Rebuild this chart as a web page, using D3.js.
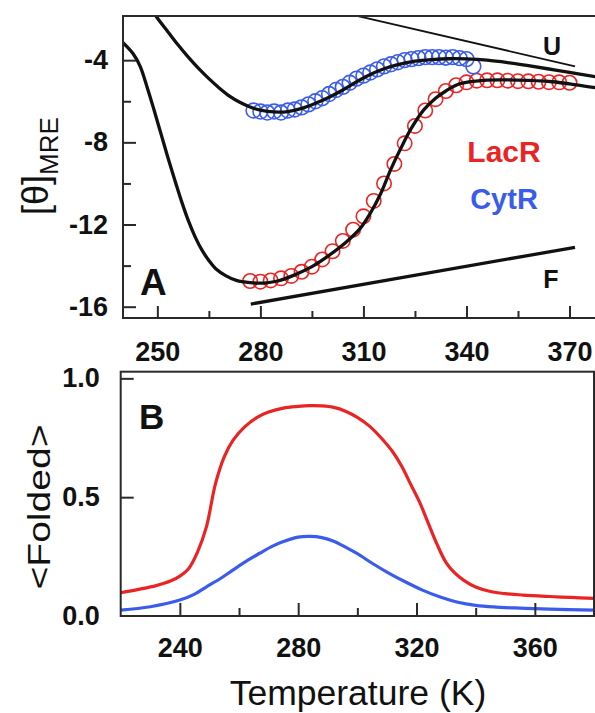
<!DOCTYPE html>
<html>
<head>
<meta charset="utf-8">
<script src="https://cdn.jsdelivr.net/npm/d3@7/dist/d3.min.js"></script>
<style>
  html, body { margin: 0; padding: 0; background: #fff; }
  svg { display: block; }
  text { font-family: "Liberation Sans", Arial, Helvetica, sans-serif; fill: #111; }
</style>
</head>
<body>
<svg id="chart" width="595" height="713"></svg>
<script>
// ---- Panel A: mean residue ellipticity vs temperature ----
// LacR fitted curve
const lacFitT = [240, 243, 245, 247, 249, 251, 253, 255, 257, 259, 261, 263, 265, 267, 270, 273, 277, 281, 285, 290, 295, 300, 305, 309, 312, 315, 318, 321, 324, 327.5, 331, 334, 338, 345, 355, 365, 372, 378];
const lacFitV = [-3.15, -3.7, -4.3, -5.3, -6.4, -7.55, -8.7, -9.8, -10.85, -11.8, -12.6, -13.25, -13.75, -14.15, -14.5, -14.72, -14.83, -14.85, -14.75, -14.45, -14.05, -13.5, -12.85, -12.2, -11.45, -10.5, -9.3, -8.25, -7.3, -6.43, -5.85, -5.5, -5.15, -4.98, -4.97, -5.05, -5.2, -5.35];
// LacR measured points
const lacObsT = [277, 280, 283, 286, 289, 292, 295, 298, 301, 304, 307, 310, 313, 316, 319, 322, 325, 328, 331, 334, 337, 340, 343, 346, 349, 352, 355, 358, 361, 364, 367, 370];
const lacObsV = [-14.75, -14.78, -14.72, -14.62, -14.5, -14.3, -14.05, -13.7, -13.3, -12.8, -12.25, -11.6, -10.85, -10.0, -9.05, -8.05, -7.2, -6.45, -5.9, -5.5, -5.22, -5.08, -5.0, -4.98, -4.98, -5.0, -5.02, -5.03, -5.05, -5.07, -5.08, -5.1];
// CytR fitted curve
const cytFitT = [244, 247, 250, 253, 256, 259, 262, 265, 268, 271, 274, 277, 280, 284, 288, 292, 296, 300, 304, 308, 312, 316, 320, 325, 330, 335, 340, 346, 352, 358, 364, 370, 378];
const cytFitV = [-0.6, -1.2, -1.95, -2.6, -3.25, -3.85, -4.4, -4.9, -5.35, -5.75, -6.05, -6.28, -6.43, -6.52, -6.5, -6.35, -6.1, -5.8, -5.45, -5.05, -4.7, -4.42, -4.22, -4.05, -3.97, -3.93, -3.94, -4.0, -4.12, -4.27, -4.43, -4.6, -4.82];
// CytR measured points
const cytObsT = [278, 280, 282, 284, 286, 288, 290, 292, 294, 296, 298, 300, 302, 304, 306, 308, 310, 312, 314, 316, 318, 320, 322, 324, 326, 328, 330, 332, 334, 336, 338, 340, 342];
const cytObsV = [-6.45, -6.5, -6.55, -6.5, -6.55, -6.45, -6.4, -6.3, -6.15, -6.0, -5.85, -5.65, -5.45, -5.3, -5.1, -4.9, -4.75, -4.6, -4.45, -4.3, -4.2, -4.1, -4.0, -3.95, -3.9, -3.85, -3.85, -3.85, -3.88, -3.85, -3.9, -3.95, -4.3];
// Unfolded and folded baselines
const baseUT = [300, 371.6];
const baseUV = [-1.53, -4.3];
const baseFT = [277.2, 371.6];
const baseFV = [-15.87, -13.11];

const axATicksX = [250, 280, 310, 340, 370];
const axAMinorX = [265, 295, 325, 355];
const axATicksY = [-4, -8, -12, -16];
const axAMinorY = [-6, -10, -14];

// ---- Panel B: folded fraction vs temperature ----
const foldLacT = [220, 226, 232, 237, 240, 243, 246, 249, 252, 255, 258, 262, 266, 270, 275, 280, 284, 288, 292, 296, 300, 304, 308, 312, 315, 318, 321, 324, 327, 330, 333, 336, 340, 345, 350, 356, 365, 372, 380];
const foldLacV = [0.098, 0.112, 0.128, 0.148, 0.168, 0.2, 0.27, 0.376, 0.555, 0.67, 0.74, 0.797, 0.835, 0.858, 0.875, 0.882, 0.885, 0.884, 0.878, 0.862, 0.836, 0.8, 0.75, 0.69, 0.63, 0.555, 0.48, 0.39, 0.3, 0.225, 0.18, 0.15, 0.122, 0.103, 0.094, 0.088, 0.082, 0.078, 0.074];
const foldCytT = [220, 230, 240, 245, 249, 254, 258, 263, 267, 271, 275, 280, 284, 288, 292, 296, 300, 305, 310, 316, 322, 328, 334, 340, 346, 355, 365, 380];
const foldCytV = [0.025, 0.039, 0.067, 0.092, 0.123, 0.16, 0.194, 0.235, 0.264, 0.292, 0.313, 0.332, 0.335, 0.33, 0.315, 0.29, 0.262, 0.222, 0.185, 0.145, 0.109, 0.08, 0.058, 0.045, 0.038, 0.033, 0.029, 0.025];

const axBTicksX = [240, 280, 320, 360];
const axBMinorX = [260, 300, 340];
const axBTicksY = [0.0, 0.5, 1.0];
const axBLabelsY = ["0.0", "0.5", "1.0"];

const RED = "#ea2424";
const BLUE = "#3b5ceb";
const INK = "#111";

const svg = d3.select("#chart");
const zip = (xs, ys) => xs.map((x, i) => [x, ys[i]]);

// ---------- Panel A ----------
const A = { left: 123, right: 597, top: 16, bottom: 318 };
const xA = d3.scaleLinear().domain([240, 378]).range([A.left, A.right]);
const yA = d3.scaleLinear().domain([-16.55, -1.85]).range([A.bottom, A.top]);

svg.append("clipPath").attr("id", "clipA").append("rect")
  .attr("x", A.left).attr("y", A.top).attr("width", A.right - A.left).attr("height", A.bottom - A.top);

const gA = svg.append("g").attr("clip-path", "url(#clipA)");
const lineA = d3.line().x(d => xA(d[0])).y(d => yA(d[1])).curve(d3.curveCatmullRom.alpha(0.5));

gA.selectAll("circle.lac").data(zip(lacObsT, lacObsV)).join("circle")
  .attr("class", "lac").attr("cx", d => xA(d[0])).attr("cy", d => yA(d[1])).attr("r", 7.2)
  .attr("fill", "none").attr("stroke", RED).attr("stroke-width", 1.6);
gA.selectAll("circle.cyt").data(zip(cytObsT, cytObsV)).join("circle")
  .attr("class", "cyt").attr("cx", d => xA(d[0])).attr("cy", d => yA(d[1])).attr("r", 7.4)
  .attr("fill", "none").attr("stroke", BLUE).attr("stroke-width", 1.6);

gA.append("path").datum(zip(lacFitT, lacFitV)).attr("d", lineA)
  .attr("fill", "none").attr("stroke", INK).attr("stroke-width", 3.3);
gA.append("path").datum(zip(cytFitT, cytFitV)).attr("d", lineA)
  .attr("fill", "none").attr("stroke", INK).attr("stroke-width", 3.3);
gA.append("path").datum(zip(baseUT, baseUV)).attr("d", d3.line().x(d => xA(d[0])).y(d => yA(d[1])))
  .attr("fill", "none").attr("stroke", INK).attr("stroke-width", 1.8);
gA.append("path").datum(zip(baseFT, baseFV)).attr("d", d3.line().x(d => xA(d[0])).y(d => yA(d[1])))
  .attr("fill", "none").attr("stroke", INK).attr("stroke-width", 3.3);

// frame
svg.append("rect").attr("x", A.left).attr("y", A.top).attr("width", A.right - A.left).attr("height", A.bottom - A.top)
  .attr("fill", "none").attr("stroke", "#2a2a2a").attr("stroke-width", 2);

// axes with inward ticks
const axAx = svg.append("g").attr("transform", `translate(0,${A.bottom})`)
  .call(d3.axisBottom(xA).tickValues(axATicksX).tickSize(-12).tickPadding(24).tickFormat(d3.format("d")));
const axAxMinor = svg.append("g").attr("transform", `translate(0,${A.bottom})`)
  .call(d3.axisBottom(xA).tickValues(axAMinorX).tickSize(-7).tickFormat(""));
const axAy = svg.append("g").attr("transform", `translate(${A.left},0)`)
  .call(d3.axisLeft(yA).tickValues(axATicksY).tickSize(-13).tickPadding(15).tickFormat(d => d3.format("d")(d).replace("−", "-")));
const axAyMinor = svg.append("g").attr("transform", `translate(${A.left},0)`)
  .call(d3.axisLeft(yA).tickValues(axAMinorY).tickSize(-8).tickFormat(""));

// ---------- Panel B ----------
const B = { left: 120.7, right: 594, top: 371.7, bottom: 616 };
const xB = d3.scaleLinear().domain([220, 380]).range([B.left, B.right]);
const yB = d3.scaleLinear().domain([0, 1.028]).range([B.bottom, B.top]);

svg.append("clipPath").attr("id", "clipB").append("rect")
  .attr("x", B.left).attr("y", B.top).attr("width", B.right - B.left).attr("height", B.bottom - B.top);
const gB = svg.append("g").attr("clip-path", "url(#clipB)");
const lineB = d3.line().x(d => xB(d[0])).y(d => yB(d[1])).curve(d3.curveCatmullRom.alpha(0.5));

gB.append("path").datum(zip(foldCytT, foldCytV)).attr("d", lineB)
  .attr("fill", "none").attr("stroke", BLUE).attr("stroke-width", 3.2);
gB.append("path").datum(zip(foldLacT, foldLacV)).attr("d", lineB)
  .attr("fill", "none").attr("stroke", RED).attr("stroke-width", 3.2);

svg.append("rect").attr("x", B.left).attr("y", B.top).attr("width", B.right - B.left).attr("height", B.bottom - B.top)
  .attr("fill", "none").attr("stroke", "#2a2a2a").attr("stroke-width", 2);

const axBx = svg.append("g").attr("transform", `translate(0,${B.bottom})`)
  .call(d3.axisBottom(xB).tickValues(axBTicksX).tickSize(-13).tickPadding(22).tickFormat(d3.format("d")));
const axBxMinor = svg.append("g").attr("transform", `translate(0,${B.bottom})`)
  .call(d3.axisBottom(xB).tickValues(axBMinorX).tickSize(-8).tickFormat(""));
const axBy = svg.append("g").attr("transform", `translate(${B.left},0)`)
  .call(d3.axisLeft(yB).tickValues(axBTicksY).tickSize(-13).tickPadding(21).tickFormat((d, i) => axBLabelsY[i]));

// shared axis styling
svg.selectAll(".domain").remove();
svg.selectAll(".tick line").attr("stroke", "#2a2a2a").attr("stroke-width", 2);
svg.selectAll(".tick text").attr("font-size", 27).attr("font-weight", "bold")
  .attr("fill", "#111").style("font-family", '"Liberation Sans", Arial, sans-serif');
// the 0.0 tick sits on the frame, so its mark is dropped
axBy.selectAll(".tick").filter(d => d === 0).select("line").remove();

// ---------- Text ----------
svg.append("text").attr("x", 140).attr("y", 295).attr("font-size", 37).attr("font-weight", "bold").text("A");
svg.append("text").attr("x", 139).attr("y", 429).attr("font-size", 35).attr("font-weight", "bold").text("B");
svg.append("text").attr("x", 552).attr("y", 55).attr("text-anchor", "middle").attr("font-size", 25).attr("font-weight", "bold").text("U");
svg.append("text").attr("x", 551).attr("y", 288).attr("text-anchor", "middle").attr("font-size", 25).attr("font-weight", "bold").text("F");
svg.append("text").attr("x", 504).attr("y", 161.5).attr("text-anchor", "middle").attr("font-size", 30).attr("font-weight", "bold")
  .style("fill", RED).text("LacR");
svg.append("text").attr("x", 504).attr("y", 208.5).attr("text-anchor", "middle").attr("font-size", 29).attr("font-weight", "bold")
  .style("fill", BLUE).text("CytR");

// y label panel A: [θ] with subscript MRE
const yLabA = svg.append("text").attr("transform", "translate(48,215) rotate(-90)").attr("font-size", 36);
yLabA.append("tspan").text("[θ]");
yLabA.append("tspan").attr("dy", 10).attr("font-size", 26).text("MRE");

svg.append("text").attr("transform", "translate(50,507) rotate(-90)").attr("text-anchor", "middle")
  .attr("font-size", 32).attr("textLength", 165).attr("lengthAdjust", "spacingAndGlyphs").text("<Folded>");

svg.append("text").attr("x", 358).attr("y", 705).attr("text-anchor", "middle").attr("font-size", 35.5).text("Temperature (K)");
</script>
</body>
</html>
